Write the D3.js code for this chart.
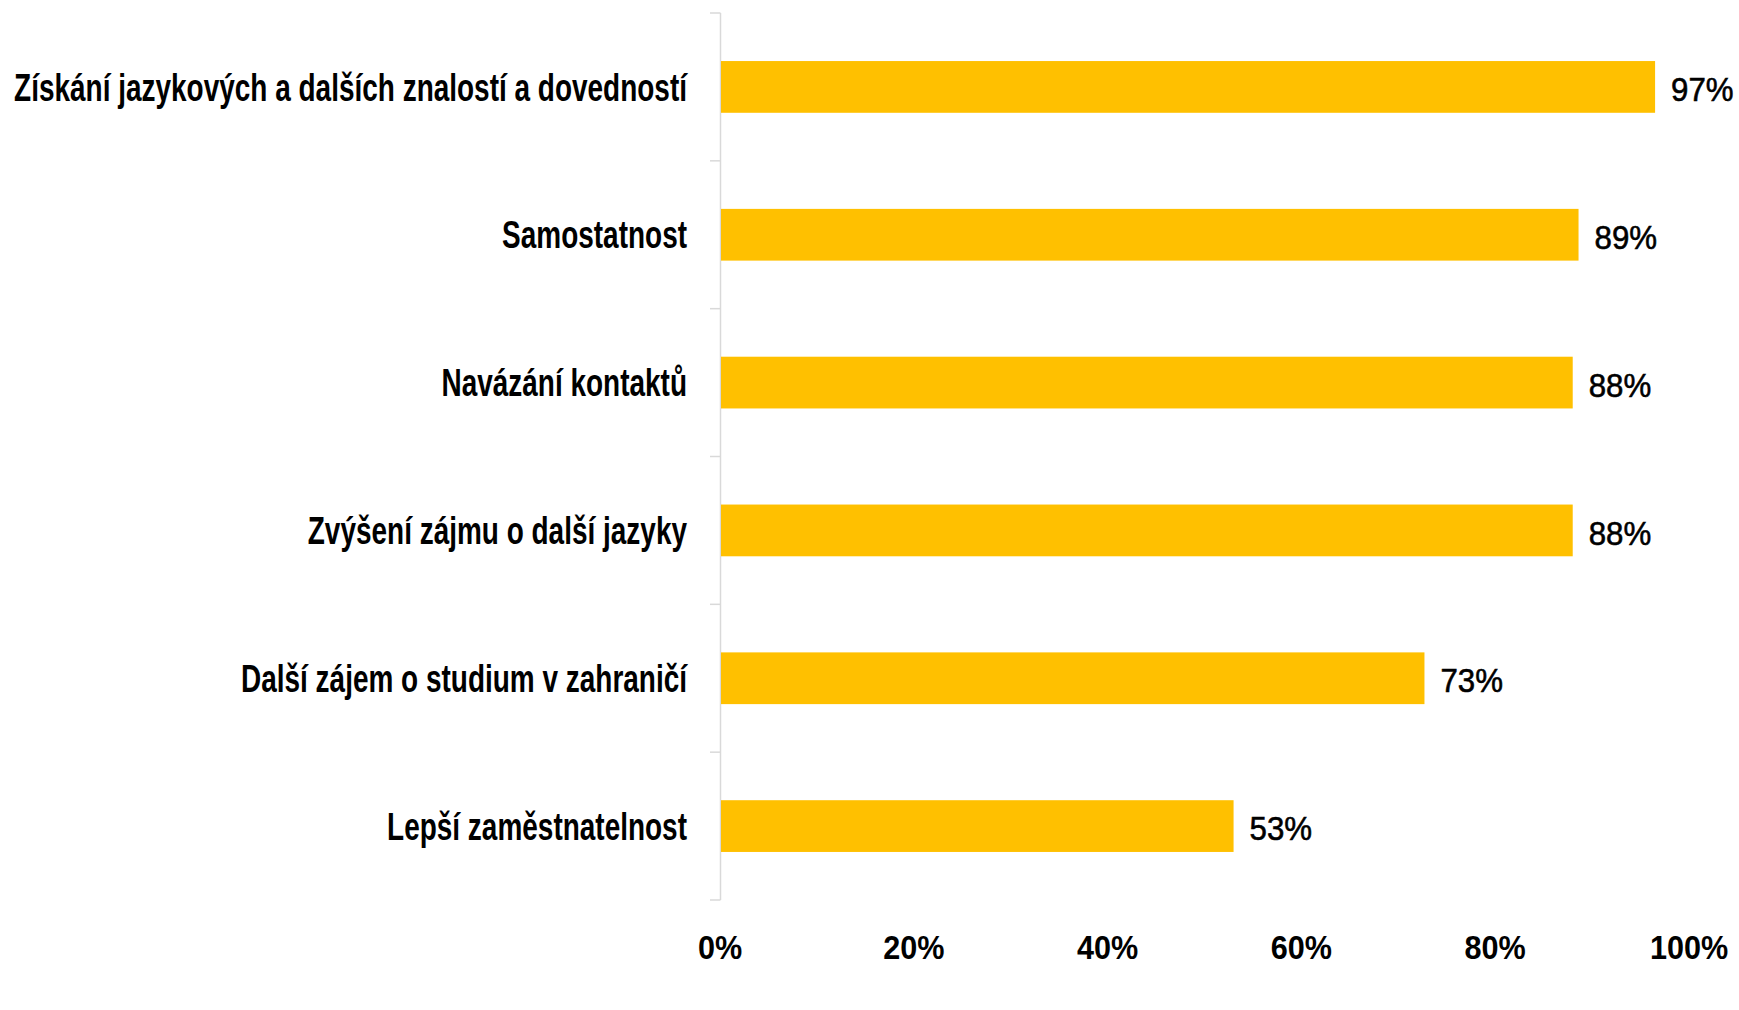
<!DOCTYPE html>
<html>
<head>
<meta charset="utf-8">
<script src="https://cdn.jsdelivr.net/npm/d3@7"></script>
<style>
  body { margin: 0; background: #fff; }
  svg text { font-family: "Liberation Sans", Arial, sans-serif; fill: #000; }
</style>
</head>
<body>
<svg width="1739" height="1010"></svg>
<script>
// categories and values, top to bottom (labels are rounded values)
var categories = [
    "Získání jazykových a dalších znalostí a dovedností",
    "Samostatnost",
    "Navázání kontaktů",
    "Zvýšení zájmu o další jazyky",
    "Další zájem o studium v zahraničí",
    "Lepší zaměstnatelnost"
];
var values = [96.5, 88.6, 88, 88, 72.7, 53];
var xTicks = [0, 20, 40, 60, 80, 100];

var data = categories.map(function(c, i){ return {name: c, value: values[i]}; });

var svg = d3.select('svg');
var fontSize = 38;

var x = d3.scaleLinear().domain([0, 100]).range([720, 1689]);
var y = d3.scaleBand().domain(categories).range([13, 900]).paddingInner(0.65).paddingOuter(0.325);

// no condensed font installed: measure the longest label and squeeze the category text to match
var probe = svg.append('text').style('font-size', fontSize + 'px').style('font-weight', 'bold').text(categories[0]);
var squeeze = 673 / probe.node().getComputedTextLength();
probe.remove();

function label(sel, px, py, anchor, k, size, weight){
    return sel.append('text')
        .attr('transform', 'translate(' + px + ',' + py + ') scale(' + k + ',1)')
        .attr('text-anchor', anchor)
        .attr('dy', '0.36em')
        .style('font-size', size + 'px')
        .style('font-weight', weight);
}

// axis line + small ticks at band boundaries
svg.append('line')
    .attr('x1', 720.5).attr('x2', 720.5)
    .attr('y1', 13).attr('y2', 900)
    .attr('stroke', '#d9d9d9').attr('stroke-width', 1.5);

var bounds = d3.range(categories.length + 1).map(function(i){ return 13 + i * y.step(); });
svg.selectAll('.tk').data(bounds).enter().append('line')
    .attr('x1', 710).attr('x2', 720.5)
    .attr('y1', function(d){ return d; }).attr('y2', function(d){ return d; })
    .attr('stroke', '#d9d9d9').attr('stroke-width', 1.5);

// bars
svg.selectAll('rect.bar').data(data).enter().append('rect')
    .attr('class', 'bar')
    .attr('x', x(0) + 1)
    .attr('y', function(d){ return y(d.name); })
    .attr('width', function(d){ return x(d.value) - x(0) - 1; })
    .attr('height', y.bandwidth())
    .attr('fill', '#FFC000');

// category labels and value labels
data.forEach(function(d){
    var cy = y(d.name) + y.bandwidth() / 2;
    label(svg, 687, cy, 'end', squeeze, fontSize, 'bold').text(d.name);
    label(svg, x(d.value) + 16, cy + 2, 'start', 0.92, 34, 'normal')
        .attr('stroke', '#000').attr('stroke-width', 0.6)
        .text(Math.round(d.value) + '%');
});

// x tick labels
xTicks.forEach(function(t){
    label(svg, x(t), 947, 'middle', 0.9, 34, 'bold').text(t + '%');
});
</script>
</body>
</html>
